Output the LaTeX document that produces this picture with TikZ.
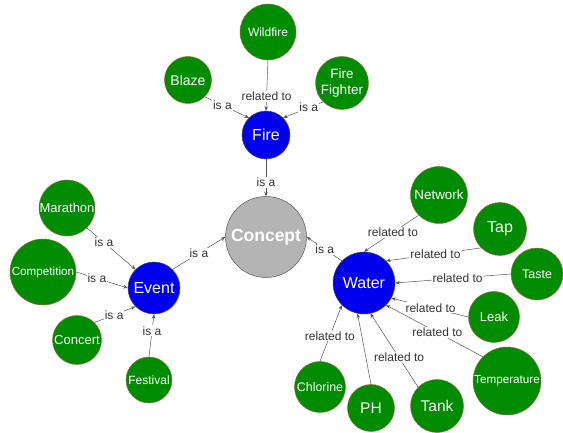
\documentclass[tikz,border=0pt]{standalone}
\usepackage{fontspec}
\setmainfont{Liberation Sans}
\usetikzlibrary{arrows.meta}

\definecolor{leafgreen}{RGB}{0,140,0}
\definecolor{leafrim}{RGB}{150,112,72}
\definecolor{hubblue}{RGB}{0,0,238}
\definecolor{conceptgray}{RGB}{180,180,180}
\definecolor{edgegray}{RGB}{85,85,85}
\definecolor{lblgray}{RGB}{51,51,51}

\tikzset{
	fs/.style={font=\fontsize{#1}{#1}\selectfont},
	leaf/.style={circle,fill=leafgreen,draw=leafrim,line width=0.5pt,text=white,inner sep=0pt,minimum size=#1},
	hub/.style={circle,fill=hubblue,draw=black!70,line width=0.5pt,text=white,inner sep=0pt,minimum size=#1,fs=16},
	rel/.style={draw=edgegray,line width=0.5pt,-{Stealth[length=4.5pt,width=3.5pt]}},
	lbl/.style={fill=white,text=lblgray,inner sep=1pt,fs=12}
}

\begin{document}
\begin{tikzpicture}[x=1pt,y=-1pt]
			\useasboundingbox (0,0) rectangle (563,433);

			\node[circle,fill=conceptgray,draw=black!65,line width=0.5pt,text=white,inner sep=0pt,minimum size=81pt,font=\fontsize{17.5}{17.5}\selectfont\bfseries] (concept) at (266,237) {Concept};

			\node[hub=48pt] (fire) at (266,135) {Fire};
			\node[hub=52pt] (event) at (154,288) {Event};
			\node[hub=62pt] (water) at (364,283) {Water};

			\node[leaf=56pt,fs=12] (wildfire) at (268,32) {Wildfire};
			\node[leaf=47pt,fs=14] (blaze) at (188,80) {Blaze};
			\node[leaf=53pt,align=center,font=\fontsize{13.5}{16}\selectfont] (fighter) at (342,83) {Fire\\Fighter};

			\node[leaf=56pt,fs=13] (marathon) at (67,208) {Marathon};
			\node[leaf=66pt,fs=11.7] (competition) at (43,272) {Competition};
			\node[leaf=49pt,fs=13] (concert) at (77,340) {Concert};
			\node[leaf=46pt,fs=12] (festival) at (149,380) {Festival};

			\node[leaf=57pt,fs=13.4] (network) at (439,195) {Network};
			\node[leaf=53pt,fs=16] (tap) at (500,229) {Tap};
			\node[leaf=52pt,fs=12.5] (taste) at (537,274) {Taste};
			\node[leaf=51pt,fs=13] (leak) at (494,317) {Leak};
			\node[leaf=68pt,fs=11.7] (temperature) at (507,381) {Temperature};
			\node[leaf=53pt,fs=15.5] (tank) at (437,406) {Tank};
			\node[leaf=47pt,fs=15.5] (ph) at (371,408) {PH};
			\node[leaf=51pt,fs=12.4] (chlorine) at (320,387) {Chlorine};

			\draw[rel] (wildfire.south) -- node[lbl,pos=.72] {related to} (fire.north);
			\draw[rel] (blaze.south east) -- node[lbl,pos=.4] {is a} (fire.north west);
			\draw[rel] (fighter.south west) -- node[lbl,pos=.36] {is a} (fire.north east);
			\draw[rel] (fire.south) -- node[lbl,pos=.63] {is a} (concept.north);

			\draw[rel] (event.north east) -- node[lbl,pos=.5] {is a} (concept.west);
			\draw[rel] (marathon.south east) -- node[lbl,pos=.35] {is a} (event.north west);
			\draw[rel] (competition.east) -- node[lbl,pos=.4] {is a} (event.west);
			\draw[rel] (concert.north east) -- node[lbl,pos=.48] {is a} (event.south west);
			\draw[rel] (festival.north) -- node[lbl,pos=.61] {is a} (event.south);

			\draw[rel] (water.north west) -- node[lbl,pos=.49] {is a} (concept.east);
			\draw[rel] (network.south west) -- node[lbl,pos=.47] {related to} (water.north);
			\draw[rel] (tap.south west) -- node[lbl,pos=.48] {related to} (water.north east);
			\draw[rel] (taste.west) -- node[lbl,pos=.46] {related to} (water.east);
			\draw[rel] (leak.west) -- node[lbl,pos=.49] {related to} (water.-29);
			\draw[rel] (temperature.north west) -- node[lbl,pos=.47] {related to} (water.south east);
			\draw[rel] (chlorine.north) -- node[lbl,pos=.45] {related to} (water.south west);
			\draw[rel] (ph.north) -- (water.-102);
			\draw[rel] (tank.north west) -- node[lbl,pos=.4] {related to} (water.-78);
		\end{tikzpicture}
\end{document}
